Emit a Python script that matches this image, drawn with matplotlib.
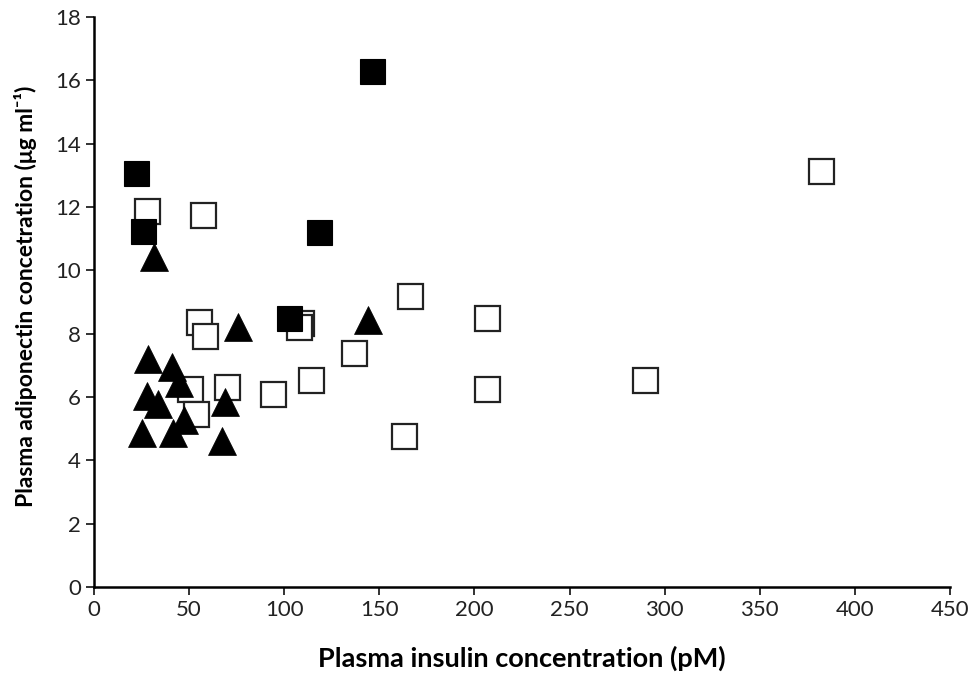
import matplotlib
matplotlib.use('Agg')
import matplotlib.pyplot as plt

plt.rcParams['font.family'] = ['Lato', 'DejaVu Sans']

# filled squares
filled_sq_x = [21.9, 25.6, 102.3, 118.1, 145.9]
filled_sq_y = [13.08, 11.25, 8.48, 11.22, 16.28]

# open squares
open_sq_x = [27.9, 57.3, 55.2, 58.4, 50.5, 69.9, 53.6, 94.1, 108.7, 107.7,
             166.1, 136.7, 114.3, 206.5, 206.8, 163.0, 289.7, 382.2]
open_sq_y = [11.88, 11.76, 8.38, 7.94, 6.25, 6.33, 5.46, 6.08, 8.34, 8.22,
             9.20, 7.39, 6.55, 8.50, 6.26, 4.78, 6.54, 13.15]

# filled triangles
tri_x = [31.5, 75.9, 28.4, 40.8, 44.9, 27.7, 33.8, 68.9, 47.3, 25.4, 41.7, 67.1, 144.2]
tri_y = [10.42, 8.20, 7.21, 6.95, 6.44, 6.02, 5.78, 5.85, 5.26, 4.87, 4.85, 4.62, 8.42]

x_ticks = [0, 50, 100, 150, 200, 250, 300, 350, 400, 450]
y_ticks = [0, 2, 4, 6, 8, 10, 12, 14, 16, 18]

fig = plt.figure(figsize=(9.73, 6.75), dpi=100)
ax = fig.add_axes([0.0966, 0.1304, 0.8798, 0.8444])

ax.plot(open_sq_x, open_sq_y, 's', ms=18, mfc='white', mec='#222222', mew=1.6, zorder=2)
ax.plot(tri_x, tri_y, '^', ms=20, mfc='black', mec='black', mew=0.5, zorder=3)
ax.plot(filled_sq_x, filled_sq_y, 's', ms=18, mfc='black', mec='black', mew=0.8, zorder=4)

ax.set_xlim(0, 450)
ax.set_ylim(0, 18)
ax.set_xticks(x_ticks)
ax.set_yticks(y_ticks)
ax.spines['top'].set_visible(False)
ax.spines['right'].set_visible(False)
ax.spines['left'].set_linewidth(1.8)
ax.spines['bottom'].set_linewidth(1.8)
ax.tick_params(direction='out', length=6, width=1.3, labelsize=16, colors='#222222')

ax.set_xlabel('Plasma insulin concentration (pM)', fontsize=19.5, fontweight='bold')
ax.set_ylabel('Plasma adiponectin concetration (μg ml⁻¹)', fontsize=16.5, fontweight='bold')
ax.xaxis.set_label_coords(0.5, -0.103)
ax.yaxis.set_label_coords(-0.066, 0.51)

fig.savefig('out.png', dpi=100)
